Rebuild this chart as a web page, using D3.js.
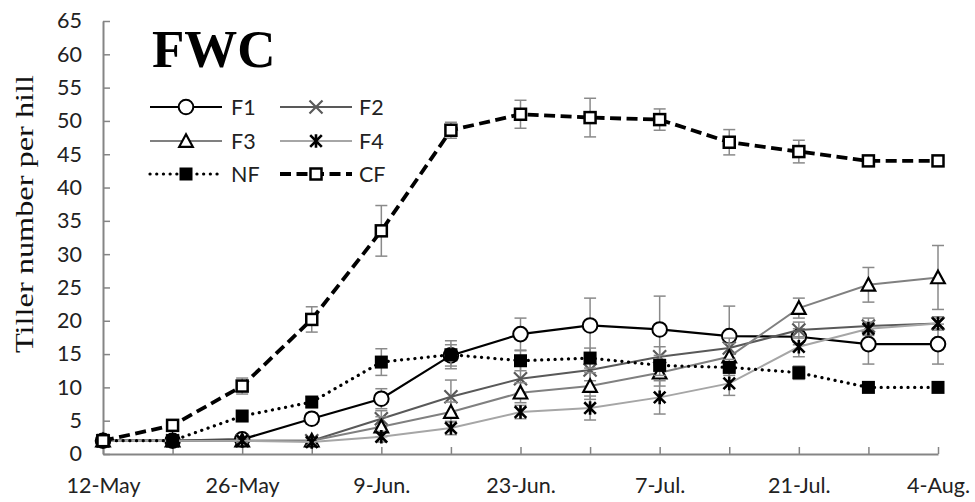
<!DOCTYPE html>
<html>
<head>
<meta charset="utf-8">
<script src="https://cdn.jsdelivr.net/npm/d3@7"></script>
<style>
  html, body { margin: 0; padding: 0; background: #fff; }
  svg { display: block; }
</style>
</head>
<body>
<svg id="chart" width="975" height="502"></svg>
<script>
// Sampling dates (weekly)
const dates = ["12-May", "19-May", "26-May", "2-Jun.", "9-Jun.", "16-Jun.", "23-Jun.",
               "30-Jun.", "7-Jul.", "14-Jul.", "21-Jul.", "28-Jul.", "4-Aug."];
// Dates that carry a label on the x axis
const xTickLabels = ["12-May", "26-May", "9-Jun.", "23-Jun.", "7-Jul.", "21-Jul.", "4-Aug."];
const yTicks = d3.range(0, 66, 5);

// Tiller number per hill, mean values
const F1 = [2.0, 2.0, 2.2, 5.3, 8.3, 14.8, 18.0, 19.3, 18.7, 17.7, 17.6, 16.5, 16.5];
const F2 = [2.0, 2.0, 2.0, 2.0, 5.3, 8.6, 11.3, 12.6, 14.6, 15.9, 18.6, 19.2, 19.6];
const F3 = [2.0, 2.0, 2.0, 2.0, 4.1, 6.3, 9.2, 10.2, 12.2, 14.6, 21.9, 25.4, 26.5];
const F4 = [2.0, 2.0, 2.0, 1.8, 2.6, 3.9, 6.3, 6.9, 8.5, 10.6, 16.1, 18.8, 19.6];
const NF = [2.0, 2.0, 5.7, 7.8, 13.8, 14.9, 14.0, 14.4, 13.3, 13.0, 12.2, 10.0, 10.0];
const CF = [2.0, 4.3, 10.2, 20.2, 33.5, 48.6, 51.0, 50.5, 50.2, 46.8, 45.4, 44.0, 44.0];

// Standard deviation (error bars)
const F1err = [0.3, 0.3, 0.5, 0.8, 1.5, 1.6, 2.4, 4.1, 5.0, 4.5, 1.2, 3.0, 3.0];
const F2err = [0.3, 0.3, 0.3, 0.5, 1.2, 2.5, 2.2, 1.6, 1.5, 1.5, 1.2, 1.2, 1.0];
const F3err = [0.3, 0.3, 0.5, 0.5, 1.5, 1.5, 1.5, 2.0, 2.0, 2.0, 1.5, 2.6, 4.8];
const F4err = [0.3, 0.3, 0.3, 0.5, 0.8, 1.0, 1.0, 1.8, 2.5, 1.8, 1.5, 1.0, 0.8];
const NFerr = [0.3, 0.5, 0.6, 0.8, 2.0, 2.1, 1.5, 1.5, 1.5, 1.2, 1.0, 0.5, 0.5];
const CFerr = [0.3, 0.3, 1.2, 1.9, 3.8, 1.2, 2.1, 2.9, 1.6, 1.9, 1.7, 0.5, 0.5];

const seriesNames = ["F1", "F2", "F3", "F4", "NF", "CF"];

// Series look-up built from the arrays above
const series = [
  { name: "F1", values: F1, err: F1err, color: "#000000", width: 2.2, dash: null, marker: "circle" },
  { name: "F2", values: F2, err: F2err, color: "#595959", width: 2, dash: null, marker: "x" },
  { name: "F3", values: F3, err: F3err, color: "#808080", width: 2, dash: null, marker: "triangle" },
  { name: "F4", values: F4, err: F4err, color: "#a6a6a6", width: 2, dash: null, marker: "star" },
  { name: "NF", values: NF, err: NFerr, color: "#000000", width: 3.2, dash: "0.1 6.6", cap: "round", marker: "squareFilled" },
  { name: "CF", values: CF, err: CFerr, color: "#000000", width: 3.8, dash: "11 5.5", marker: "squareOpen" }
];

const svg = d3.select("#chart");
const tickFont = "Lato, 'Open Sans', sans-serif";
const axisColor = "#858585";

const x = d3.scalePoint().domain(dates).range([103, 938]).padding(0);
const y = d3.scaleLinear().domain([0, 65]).range([454, 21]);

// ---- axes ----
const xAxis = d3.axisBottom(x)
  .tickValues(dates)
  .tickSizeInner(-7).tickSizeOuter(0)
  .tickFormat(d => xTickLabels.includes(d) ? d : "");
const gx = svg.append("g").attr("transform", `translate(0,${y(0)})`).call(xAxis);
gx.select(".domain").attr("stroke", axisColor).attr("stroke-width", 2);
gx.selectAll(".tick line").attr("stroke", axisColor).attr("stroke-width", 1.5);
gx.selectAll(".tick text")
  .attr("font-family", tickFont).attr("font-size", 21.5).attr("fill", "#222")
  .attr("y", 24).attr("dy", "0.71em");

const yAxis = d3.axisLeft(y).tickValues(yTicks).tickSizeInner(-7).tickSizeOuter(0);
const gy = svg.append("g").attr("transform", `translate(${x(dates[0])},0)`).call(yAxis);
gy.select(".domain").attr("stroke", axisColor).attr("stroke-width", 2);
gy.selectAll(".tick line").attr("stroke", axisColor).attr("stroke-width", 1.5);
gy.selectAll(".tick text")
  .attr("font-family", tickFont).attr("font-size", 21.5).attr("fill", "#222")
  .attr("x", -21);

// Axis title (stretched serif as in the original layout)
svg.append("text")
  .attr("transform", "translate(33,214) rotate(-90)")
  .attr("text-anchor", "middle")
  .attr("font-family", "'Liberation Serif', 'Times New Roman', serif")
  .attr("font-size", 25)
  .attr("textLength", 278)
  .attr("lengthAdjust", "spacingAndGlyphs")
  .attr("fill", "#111")
  .text("Tiller number per hill");

// Panel title
svg.append("text")
  .attr("x", 152).attr("y", 67)
  .attr("font-family", "'Liberation Serif', 'Times New Roman', serif")
  .attr("font-weight", "bold")
  .attr("font-size", 53)
  .attr("fill", "#000")
  .text("FWC");

// ---- marker drawing ----
function drawMarker(g, type, cx, cy) {
  switch (type) {
    case "circle":
      g.append("circle").attr("cx", cx).attr("cy", cy).attr("r", 7.3)
        .attr("fill", "#fff").attr("stroke", "#000").attr("stroke-width", 2);
      break;
    case "x": {
      const s = 6.5;
      g.append("path")
        .attr("d", `M${cx - s},${cy - s}L${cx + s},${cy + s}M${cx - s},${cy + s}L${cx + s},${cy - s}`)
        .attr("stroke", "#5a5a5a").attr("stroke-width", 2.2).attr("fill", "none");
      break;
    }
    case "triangle": {
      const h = 6.8;
      g.append("path")
        .attr("d", `M${cx},${cy - h}L${cx + h},${cy + h * 0.85}L${cx - h},${cy + h * 0.85}Z`)
        .attr("fill", "#fff").attr("stroke", "#000").attr("stroke-width", 2.2)
        .attr("stroke-linejoin", "miter");
      break;
    }
    case "star": {
      const s = 5.8;
      g.append("path")
        .attr("d", `M${cx - s},${cy - s}L${cx + s},${cy + s}M${cx - s},${cy + s}L${cx + s},${cy - s}M${cx},${cy - s - 1}L${cx},${cy + s + 1}`)
        .attr("stroke", "#000").attr("stroke-width", 2.6).attr("fill", "none");
      break;
    }
    case "squareFilled":
      g.append("rect").attr("x", cx - 6.5).attr("y", cy - 6.5).attr("width", 13).attr("height", 13)
        .attr("fill", "#000");
      break;
    case "squareOpen":
      g.append("rect").attr("x", cx - 5.5).attr("y", cy - 5.5).attr("width", 11).attr("height", 11)
        .attr("fill", "#fff").attr("stroke", "#000").attr("stroke-width", 2.5);
      break;
  }
}

const line = d3.line().x((d, i) => x(dates[i])).y(d => y(d));

// ---- series ----
series.forEach(s => {
  const g = svg.append("g").attr("class", "series-" + s.name);
  // error bars
  const eb = g.append("g").attr("stroke", "#8a8a8a").attr("stroke-width", 1.5);
  s.values.forEach((v, i) => {
    const cx = x(dates[i]);
    const top = y(v + s.err[i]), bot = y(v - s.err[i]);
    eb.append("line").attr("x1", cx).attr("x2", cx).attr("y1", top).attr("y2", bot);
    eb.append("line").attr("x1", cx - 6).attr("x2", cx + 6).attr("y1", top).attr("y2", top);
    eb.append("line").attr("x1", cx - 6).attr("x2", cx + 6).attr("y1", bot).attr("y2", bot);
  });
  g.append("path")
    .datum(s.values)
    .attr("d", line)
    .attr("fill", "none")
    .attr("stroke", s.color)
    .attr("stroke-width", s.width)
    .attr("stroke-dasharray", s.dash)
    .attr("stroke-linecap", s.cap || "butt");
  s.values.forEach((v, i) => drawMarker(g, s.marker, x(dates[i]), y(v)));
});

// ---- legend ----
const legendCols = [{ x0: 150, x1: 222, tx: 231 }, { x0: 280, x1: 352, tx: 359 }];
const legendRows = [107, 141, 174];
series.forEach((s, k) => {
  const col = legendCols[k % 2], ry = legendRows[Math.floor(k / 2)];
  const g = svg.append("g").attr("class", "legend-item");
  g.append("line")
    .attr("x1", col.x0).attr("x2", col.x1).attr("y1", ry).attr("y2", ry)
    .attr("stroke", s.color).attr("stroke-width", s.width)
    .attr("stroke-dasharray", s.dash).attr("stroke-linecap", s.cap || "butt");
  drawMarker(g, s.marker, (col.x0 + col.x1) / 2, ry);
  g.append("text")
    .attr("x", col.tx).attr("y", ry).attr("dy", "0.36em")
    .attr("font-family", tickFont).attr("font-size", 21.5).attr("fill", "#222")
    .text(seriesNames[k]);
});
</script>
</body>
</html>
